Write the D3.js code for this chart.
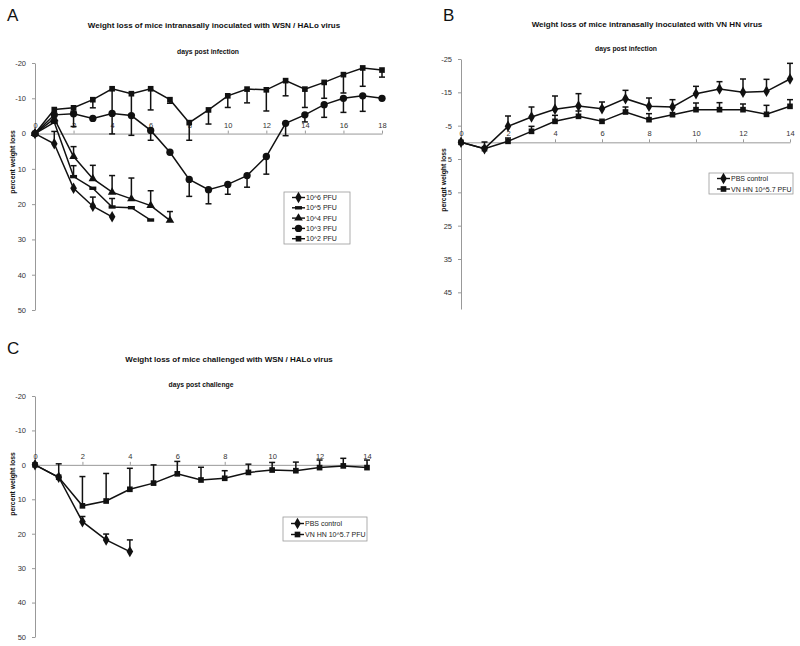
<!DOCTYPE html>
<html><head><meta charset="utf-8">
<script src="https://cdn.jsdelivr.net/npm/d3@7"></script>
<style>body{margin:0;background:#fff}svg{display:block}text{font-family:"Liberation Sans",Arial,sans-serif}</style>
</head><body><div id="c"></div>
<script>
// ---------- Panel A data ----------
const daysA = d3.range(0, 19);
const a_1e6 = [0, 2.9, 15.5, 20.6, 23.6];
const a_1e6err = [0, -3.5, 0, -2.6, 0];
const a_1e5 = [0, -3.2, 12.2, 15.5, 20.8, 21.0, 24.5];
const a_1e5err = [0, 0, -3.1, 0, -2.4, 0, 0];
const a_1e4 = [0, -4.2, 6.5, 12.8, 16.6, 18.5, 20.4, 24.6];
const a_1e4err = [0, 0, -2.8, -3.8, -4.7, -5.9, -4.2, -2.5];
const a_1e3 = [0, -5.3, -5.6, -4.3, -5.7, -5.1, -0.9, 5.3, 13.0, 15.9, 14.4, 11.9, 6.5, -2.9, -5.3, -8.2, -10.0, -10.7, -10.0];
const a_1e3err = [0, 0, 3.6, 0, 5.8, 5.6, 2.8, 0, 4.8, 4.0, 2.8, 3.3, 5.0, 3.5, 2.0, 3.6, 4.0, 4.4, 0];
const a_1e2 = [0, -6.8, -7.3, -9.6, -12.7, -11.3, -12.7, -9.6, -3.1, -6.7, -10.7, -12.6, -12.4, -15.0, -12.6, -14.5, -16.7, -18.6, -18.0];
const a_1e2err = [0, 0, 1.0, 2.3, 7.0, 6.0, 6.0, 1.0, 5.0, 4.0, 3.3, 3.9, 6.0, 4.3, 5.2, 4.5, 5.2, 5.2, 2.0];
const legendA = ["10^6 PFU", "10^5 PFU", "10^4 PFU", "10^3 PFU", "10^2 PFU"];
const yTicksA = [-20, -10, 0, 10, 20, 30, 40, 50];
const xTicksA = d3.range(0, 19, 2);

// ---------- Panel B data ----------
const daysB = d3.range(0, 15);
const b_pbs = [0, 1.9, -4.8, -7.6, -9.9, -10.9, -10.1, -13.1, -10.8, -10.6, -14.6, -16.0, -15.0, -15.3, -19.0];
const b_pbsErr = [0, -2.0, -3.1, -3.0, -4.0, -3.7, -2.0, -2.5, -2.5, -2.2, -2.2, -2.2, -4.0, -3.6, -4.7];
const b_vn = [0, 1.9, -0.3, -3.3, -6.3, -7.8, -6.3, -9.1, -6.8, -8.3, -9.8, -9.8, -9.8, -8.4, -10.8];
const b_vnErr = [0, 0, -1.0, -1.5, -1.8, -1.6, 0, -1.5, -1.8, 0, -2.0, -2.1, -1.7, -2.7, -2.0];
const yTicksB = [-25, -15, -5, 5, 15, 25, 35, 45];
const xTicksB = d3.range(0, 15, 2);
const legendBC = ["PBS control", "VN HN 10^5.7 PFU"];

// ---------- Panel C data ----------
const daysC = d3.range(0, 15);
const c_pbs = [0, 3.6, 16.5, 21.8, 25.2];
const c_pbsErr = [0, 0, -1.5, -1.7, -3.4];
const c_vn = [0, 3.6, 11.9, 10.5, 7.1, 5.3, 2.6, 4.4, 3.9, 2.2, 1.5, 1.7, 0.8, 0.3, 0.8];
const c_vnErr = [0, -3.9, -8.5, -8.0, -6.1, -5.3, -3.6, -3.7, -2.2, -2.4, -2.2, -2.5, -2.2, -2.2, -2.2];
const yTicksC = [-20, -10, 0, 10, 20, 30, 40, 50];
const xTicksC = d3.range(0, 15, 2);

const W = 800, H = 646;
const svg = d3.select("#c").append("svg").attr("width", W).attr("height", H);
svg.append("rect").attr("width", W).attr("height", H).attr("fill", "#fff");

function marker(g, type, x, y) {
  if (type === "dash") {
    g.append("rect").attr("x", x - 3.5).attr("y", y - 1.7).attr("width", 7).attr("height", 3.4).attr("fill", "#111");
    return;
  }
  const map = {diamond: [d3.symbolDiamond, 38], square: [d3.symbolSquare, 32], triangle: [d3.symbolTriangle, 32], circle: [d3.symbolCircle, 42]};
  const m = map[type];
  g.append("path").attr("d", d3.symbol().type(m[0]).size(m[1])()).attr("transform", `translate(${x},${y})`).attr("fill", "#111");
}

function panel(cfg) {
  const g = svg.append("g");
  const x = d3.scaleLinear().domain(cfg.xDom).range(cfg.xRange);
  const y = d3.scaleLinear().domain(cfg.yDom).range(cfg.yRange);
  const fmt = (d) => String(d);
  // y axis
  const ya = g.append("g").attr("transform", `translate(${cfg.xRange[0]},0)`)
    .call(d3.axisLeft(y).tickValues(cfg.yTicks).tickFormat(fmt).tickSize(3).tickSizeOuter(0).tickPadding(6));
  ya.select(".domain").attr("stroke", "#999");
  ya.selectAll(".tick line").attr("stroke", "#999");
  ya.selectAll(".tick text").attr("fill", "#333").attr("font-size", 7.5);
  // x axis at 0
  const xa = g.append("g").attr("transform", `translate(0,${y(0)})`)
    .call(d3.axisTop(x).tickValues(cfg.xTicks).tickFormat(fmt).tickSize(3).tickSizeOuter(0).tickPadding(3));
  xa.select(".domain").attr("stroke", "#999");
  xa.selectAll(".tick line").attr("stroke", "#999");
  xa.selectAll(".tick text").attr("fill", "#333").attr("font-size", 7.5);
  // titles
  g.append("text").attr("x", cfg.title[1]).attr("y", cfg.title[2]).attr("text-anchor", "middle")
    .attr("font-size", 8).attr("font-weight", "bold").attr("fill", "#111").text(cfg.title[0]);
  g.append("text").attr("x", cfg.sub[1]).attr("y", cfg.sub[2]).attr("text-anchor", "middle")
    .attr("font-size", 6.8).attr("font-weight", "bold").attr("fill", "#111").text(cfg.sub[0]);
  g.append("text").attr("transform", `translate(${cfg.ylab[0]},${cfg.ylab[1]}) rotate(-90)`).attr("text-anchor", "middle")
    .attr("font-size", 6.8).attr("font-weight", "bold").attr("fill", "#111").text("percent weight loss");
  g.append("text").attr("x", cfg.letter[1]).attr("y", cfg.letter[2]).attr("font-size", 17).attr("fill", "#111").text(cfg.letter[0]);
  // series
  const line = d3.line().x((d) => x(d[0])).y((d) => y(d[1]));
  cfg.series.forEach((s) => {
    const pts = s.vals.map((v, i) => [cfg.days[i], v]);
    s.err.forEach((e, i) => {
      if (!e) return;
      const xx = x(cfg.days[i]), y0 = y(s.vals[i]), y1 = y(s.vals[i] + e);
      g.append("line").attr("x1", xx).attr("x2", xx).attr("y1", y0).attr("y2", y1).attr("stroke", "#111").attr("stroke-width", 1.5);
      g.append("line").attr("x1", xx - 3).attr("x2", xx + 3).attr("y1", y1).attr("y2", y1).attr("stroke", "#111").attr("stroke-width", 1.5);
    });
    g.append("path").datum(pts).attr("d", line).attr("fill", "none").attr("stroke", "#111").attr("stroke-width", 1.5);
    pts.forEach((p) => marker(g, s.m, x(p[0]), y(p[1])));
  });
  // legend
  const L = cfg.legend;
  g.append("rect").attr("x", L.x).attr("y", L.y).attr("width", L.w).attr("height", L.h)
    .attr("fill", "#fff").attr("stroke", "#999").attr("stroke-width", 0.8);
  cfg.series.forEach((s, i) => {
    const yy = L.y + L.pad + i * L.step;
    g.append("line").attr("x1", L.x + 8).attr("x2", L.x + 21).attr("y1", yy).attr("y2", yy).attr("stroke", "#111").attr("stroke-width", 1.4);
    marker(g, s.m, L.x + 14.5, yy);
    g.append("text").attr("x", L.x + 22).attr("y", yy + 2.5).attr("font-size", 7).attr("fill", "#222").text(L.labels[i]);
  });
}

panel({
  xDom: [0, 18], xRange: [35, 382], yDom: [-20, 50], yRange: [63, 310],
  yTicks: yTicksA, xTicks: xTicksA, days: daysA,
  title: ["Weight loss of mice intranasally inoculated with WSN / HALo virus", 214, 28],
  sub: ["days post infection", 208, 54], ylab: [15, 162], letter: ["A", 7, 21],
  series: [
    {vals: a_1e6, err: a_1e6err, m: "diamond"},
    {vals: a_1e5, err: a_1e5err, m: "dash"},
    {vals: a_1e4, err: a_1e4err, m: "triangle"},
    {vals: a_1e3, err: a_1e3err, m: "circle"},
    {vals: a_1e2, err: a_1e2err, m: "square"}
  ],
  legend: {x: 284, y: 192, w: 66, h: 52, pad: 5.5, step: 10.3, labels: legendA}
});

panel({
  xDom: [0, 14], xRange: [461, 790], yDom: [-25, 50], yRange: [59, 309],
  yTicks: yTicksB, xTicks: xTicksB, days: daysB,
  title: ["Weight loss of mice intranasally inoculated with VN HN virus", 647, 27],
  sub: ["days post infection", 626, 51], ylab: [446, 180], letter: ["B", 443, 21],
  series: [
    {vals: b_pbs, err: b_pbsErr, m: "diamond"},
    {vals: b_vn, err: b_vnErr, m: "square"}
  ],
  legend: {x: 709, y: 173, w: 84, h: 21, pad: 5.5, step: 10.5, labels: legendBC}
});

panel({
  xDom: [0, 14], xRange: [35, 367], yDom: [-20, 50], yRange: [396, 637],
  yTicks: yTicksC, xTicks: xTicksC, days: daysC,
  title: ["Weight loss of mice challenged with WSN / HALo virus", 229, 362],
  sub: ["days post challenge", 201, 387], ylab: [15, 484], letter: ["C", 7, 354],
  series: [
    {vals: c_pbs, err: c_pbsErr, m: "diamond"},
    {vals: c_vn, err: c_vnErr, m: "square"}
  ],
  legend: {x: 283, y: 517, w: 84, h: 24, pad: 6.5, step: 11, labels: legendBC}
});
</script></body></html>
